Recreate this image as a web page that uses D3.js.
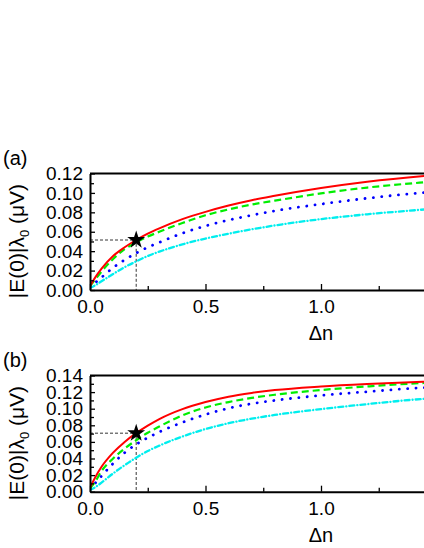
<!DOCTYPE html>
<html><head><meta charset="utf-8">
<script src="https://cdn.jsdelivr.net/npm/d3@7"></script>
<style>body{margin:0;background:#fff}svg{display:block}text{font-family:"Liberation Sans",Arial,sans-serif;fill:#000}</style>
</head><body>
<script>
// ---- data ----
const deltaN = [0, 0.02, 0.05, 0.1, 0.15, 0.2, 0.25, 0.3, 0.4, 0.5, 0.6, 0.7, 0.8, 1.0, 1.2, 1.45, 1.5];
const aRed   = [0.004,0.012,0.022,0.035,0.044,0.0515,0.058,0.0635,0.073,0.0805,0.087,0.0925,0.097,0.105,0.1115,0.1175,0.1185];
const aGreen = [0.004,0.010,0.019,0.032,0.042,0.049,0.055,0.060,0.069,0.077,0.083,0.088,0.092,0.0995,0.1055,0.111,0.112];
const aBlue  = [0.003,0.007,0.013,0.023,0.031,0.038,0.044,0.049,0.0585,0.066,0.072,0.077,0.0815,0.0885,0.0945,0.1005,0.1015];
const aCyan  = [0.002,0.0045,0.009,0.0165,0.0235,0.0295,0.035,0.0395,0.047,0.053,0.058,0.0625,0.0665,0.073,0.078,0.083,0.084];
const bRed   = [0.005,0.016,0.030,0.047,0.060,0.0705,0.0795,0.0875,0.0995,0.108,0.1145,0.119,0.1225,0.1268,0.1298,0.1326,0.1331];
const bGreen = [0.004,0.011,0.025,0.040,0.052,0.062,0.071,0.0785,0.092,0.1015,0.108,0.113,0.1168,0.1225,0.1268,0.131,0.1315];
const bBlue  = [0.003,0.0095,0.019,0.034,0.047,0.057,0.065,0.072,0.0835,0.093,0.1005,0.106,0.110,0.116,0.1205,0.1255,0.1262];
const bCyan  = [0.002,0.005,0.011,0.022,0.032,0.041,0.049,0.0555,0.0665,0.0755,0.0825,0.088,0.0925,0.0995,0.1055,0.112,0.113];
const starA = [0.2, 0.0515];
const starB = [0.2, 0.0705];
const xTicks = [0, 0.5, 1.0];
const xMinorTicks = [0.25, 0.75, 1.25];
const yTicksA = [0, 0.02, 0.04, 0.06, 0.08, 0.10, 0.12];
const yTicksB = [0, 0.02, 0.04, 0.06, 0.08, 0.10, 0.12, 0.14];
const panelLabels = ["(a)", "(b)"];

const W = 424, H = 548;
const svg = d3.select("body").append("svg").attr("width", W).attr("height", H);

const styles = [
  {color:"#ff0000", dash:null, w:2, cap:"butt"},
  {color:"#00ee00", dash:"7,4", w:2.2, cap:"butt"},
  {color:"#0000ff", dash:"0.1,8.3", w:2.8, cap:"round"},
  {color:"#00eeee", dash:"5,3,0.1,3", w:2.3, cap:"round"}
];

function panel(cfg) {
  const x = d3.scaleLinear().domain([0, 2]).range([90, 552]);
  const y = d3.scaleLinear().domain([0, cfg.ymax]).range([cfg.bottom, cfg.top]);
  const g = svg.append("g");
  const clipId = "clip" + cfg.id;
  svg.append("clipPath").attr("id", clipId).append("rect")
    .attr("x", x(0)).attr("y", y(cfg.ymax)).attr("width", x(2) - x(0)).attr("height", y(0) - y(cfg.ymax));

  g.append("path")
    .attr("d", `M${x(0)},${y(cfg.star[1])}H${x(cfg.star[0])}V${y(0)}`)
    .attr("fill", "none").attr("stroke", "#000").attr("stroke-width", 0.8).attr("stroke-dasharray", "3,2");

  const line = d3.line().x((d, i) => x(deltaN[i])).y(d => y(d)).curve(d3.curveMonotoneX);
  const lg = g.append("g").attr("clip-path", `url(#${clipId})`);
  [3, 2, 1, 0].forEach(k => {
    const s = styles[k];
    lg.append("path").datum(cfg.series[k]).attr("d", line)
      .attr("fill", "none").attr("stroke", s.color).attr("stroke-width", s.w)
      .attr("stroke-linecap", s.cap)
      .attr("stroke-dasharray", s.dash);
  });

  g.append("path").attr("d", d3.symbol().type(d3.symbolStar).size(100)())
    .attr("transform", `translate(${x(cfg.star[0])},${y(cfg.star[1])})`).attr("fill", "#000");

  const xAx = d3.axisBottom(x).tickValues(xTicks).tickSizeInner(-6).tickSizeOuter(0).tickPadding(10).tickFormat(d3.format(".1f"));
  const gx = g.append("g").attr("transform", `translate(0,${y(0)})`).call(xAx);
  gx.selectAll("text").attr("font-size", 19).attr("font-family", "Liberation Sans, Arial, sans-serif");
  const xMinor = d3.axisBottom(x).tickValues(xMinorTicks).tickSizeInner(-4).tickSizeOuter(0).tickFormat("");
  g.append("g").attr("transform", `translate(0,${y(0)})`).call(xMinor).select(".domain").remove();

  const yAx = d3.axisLeft(y).tickValues(cfg.yTicks).tickSizeInner(-5).tickSizeOuter(0).tickPadding(7).tickFormat(d3.format(".2f"));
  const gy = g.append("g").attr("transform", `translate(${x(0)},0)`).call(yAx);
  gy.selectAll("text").attr("font-size", 19).attr("font-family", "Liberation Sans, Arial, sans-serif");
  const minorY = d3.range(0.01, cfg.ymax, 0.02);
  const yMinor = d3.axisLeft(y).tickValues(minorY).tickSizeInner(-4).tickSizeOuter(0).tickFormat("");
  g.append("g").attr("transform", `translate(${x(0)},0)`).call(yMinor).select(".domain").remove();

  g.selectAll(".domain").attr("stroke-width", 2);
  g.selectAll(".tick line").attr("stroke-width", 1.3);
  g.append("line").attr("x1", x(0)).attr("x2", x(2)).attr("y1", y(cfg.ymax)).attr("y2", y(cfg.ymax))
    .attr("stroke", "#000").attr("stroke-width", 2);

  g.append("text").attr("x", (x(0) + x(2)) / 2).attr("y", cfg.bottom + 50)
    .attr("text-anchor", "middle").attr("font-size", 20).text("Δn");
  const yl = g.append("text").attr("transform", `translate(24,${cfg.ylabelY}) rotate(-90)`)
    .attr("text-anchor", "middle").attr("font-size", 21);
  yl.append("tspan").text("|E(0)|λ");
  yl.append("tspan").attr("font-size", 13).attr("dy", 5).text("0");
  yl.append("tspan").attr("dy", -5).text(" (μV)");

  g.append("text").attr("x", 3).attr("y", cfg.top - 9).attr("font-size", 20).text(cfg.label);
}

panel({id:"a", ymax:0.12, top:173.5, bottom:290, yTicks:yTicksA, series:[aRed, aGreen, aBlue, aCyan], star:starA, ylabelY:241, label:panelLabels[0]});
panel({id:"b", ymax:0.14, top:375.5, bottom:491.7, yTicks:yTicksB, series:[bRed, bGreen, bBlue, bCyan], star:starB, ylabelY:443, label:panelLabels[1]});
</script>
</body></html>
